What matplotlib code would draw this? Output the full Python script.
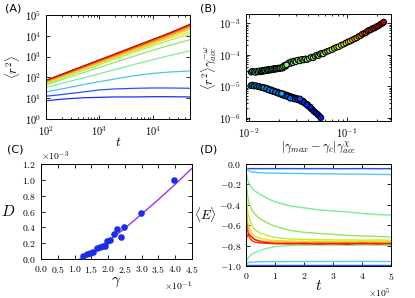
import numpy as np
import matplotlib
matplotlib.use("Agg")
import matplotlib.pyplot as plt

plt.rcParams['font.family'] = 'serif'
plt.rcParams['font.serif'] = ['cmr10']
plt.rcParams['mathtext.fontset'] = 'cm'
plt.rcParams['axes.formatter.use_mathtext'] = True
plt.rcParams['axes.linewidth'] = 0.7

# ---- panel A: <r^2> vs t ----
t_a = [1e2, 2e2, 5e2, 1e3, 2e3, 5e3, 1e4, 2e4, 5e4]
r2_lines = [
    [7.5, 9, 10.5, 11, 11.5, 11.5, 11.8, 11.8, 11.5],
    [12.5, 15, 20, 25, 28, 30, 31, 31, 30],
    [20, 28, 45, 62, 85, 125, 155, 180, 205],
    [33, 52, 95, 150, 240, 450, 700, 1100, 1900],
    [43, 80, 170, 300, 540, 1150, 2000, 3400, 6500],
    [50, 95, 220, 410, 780, 1800, 3300, 6000, 12000],
    [55, 105, 250, 480, 900, 2100, 4000, 7600, 15500],
    [58, 112, 265, 510, 980, 2350, 4500, 8700, 20500],
    [62, 120, 290, 560, 1090, 2650, 5100, 9900, 25000],
    [66, 128, 310, 610, 1200, 2900, 5700, 11200, 29000],
    [70, 137, 335, 660, 1300, 3200, 6300, 12400, 33000],
    [73, 144, 355, 700, 1380, 3400, 6700, 13300, 36000],
]
colors_a = ['#1a30ff', '#2a50ff', '#50c0f0', '#80eca0', '#90e860', '#b8ec40',
            '#d8e830', '#f0d020', '#f8a818', '#f87018', '#f03010', '#c01010']

# ---- panel B: scaled collapse ----
b_up_x = [0.0105, 0.0108, 0.0112, 0.0116, 0.012, 0.0124, 0.0128,
          0.0133, 0.0137, 0.0141, 0.0145, 0.015, 0.0155, 0.016, 0.0165, 0.017,
          0.0175, 0.018, 0.0186, 0.0192, 0.0198, 0.0205, 0.0212, 0.022,
          0.0228, 0.0236, 0.0245, 0.0255, 0.0262, 0.027, 0.028, 0.029, 0.030,
          0.0315, 0.033, 0.0345, 0.036, 0.0375, 0.039,
          0.041, 0.043, 0.045, 0.047, 0.049, 0.051, 0.053, 0.055, 0.057, 0.06,
          0.063, 0.066,
          0.07, 0.074, 0.078, 0.082, 0.087, 0.092, 0.097, 0.102, 0.107, 0.113,
          0.119,
          0.125, 0.131, 0.137, 0.143, 0.15, 0.156, 0.162, 0.168, 0.175, 0.182,
          0.19, 0.197, 0.205, 0.213, 0.222, 0.23, 0.236,
          # dense dark stretch
          0.0135, 0.0139, 0.0143, 0.0147, 0.0152, 0.0157, 0.0162, 0.0167,
          0.0172, 0.0178, 0.0183, 0.0189, 0.0195, 0.0201, 0.0208, 0.0216,
          0.0224, 0.0232, 0.0241]
b_up_y = [2.8e-5, 3.0e-5, 2.9e-5, 2.75e-5, 3.0e-5, 2.85e-5, 3.1e-5,
          2.9e-5, 3.2e-5, 3.0e-5, 3.3e-5, 3.1e-5, 3.4e-5, 3.2e-5, 3.5e-5, 3.3e-5,
          3.6e-5, 3.4e-5, 3.7e-5, 3.55e-5, 3.8e-5, 3.6e-5, 3.9e-5, 3.75e-5,
          4.6e-5, 4.3e-5, 5.0e-5, 5.6e-5, 5.2e-5, 6.0e-5, 5.6e-5, 6.4e-5, 6.0e-5,
          6.8e-5, 6.4e-5, 7.2e-5, 6.8e-5, 7.4e-5, 7.0e-5,
          7.6e-5, 8.4e-5, 8.0e-5, 9.0e-5, 9.8e-5, 9.4e-5, 1.05e-4, 1.12e-4,
          1.06e-4, 1.2e-4, 1.28e-4, 1.35e-4,
          1.45e-4, 1.6e-4, 1.72e-4, 1.8e-4, 2.0e-4, 2.15e-4, 2.35e-4, 2.55e-4,
          2.7e-4, 2.95e-4, 3.2e-4,
          3.4e-4, 3.8e-4, 4.0e-4, 4.5e-4, 4.8e-4, 5.0e-4, 5.6e-4, 6.0e-4,
          6.2e-4, 6.8e-4, 7.0e-4, 7.6e-4, 8.0e-4, 8.6e-4, 9.4e-4, 1.0e-3,
          1.08e-3,
          3.05e-5, 3.1e-5, 3.2e-5, 3.15e-5, 3.3e-5, 3.25e-5, 3.4e-5, 3.35e-5,
          3.5e-5, 3.45e-5, 3.6e-5, 3.55e-5, 3.7e-5, 3.7e-5, 3.8e-5, 3.95e-5,
          4.2e-5, 4.5e-5, 4.8e-5]
b_up_c = [0.45, 0.45, 0.45, 0.45, 0.46, 0.46, 0.46,
          0.46, 0.46, 0.47, 0.47, 0.47, 0.47, 0.47, 0.48, 0.48,
          0.48, 0.48, 0.48, 0.49, 0.49, 0.49, 0.49, 0.49,
          0.5, 0.5, 0.5, 0.5, 0.5, 0.5, 0.51, 0.51, 0.51,
          0.51, 0.51, 0.52, 0.52, 0.52, 0.52,
          0.52, 0.53, 0.53, 0.53, 0.54, 0.54, 0.54, 0.55, 0.55, 0.55,
          0.56, 0.56,
          0.57, 0.58, 0.59, 0.6, 0.61, 0.62, 0.64, 0.65, 0.66, 0.68, 0.7,
          0.72, 0.74, 0.76, 0.78, 0.8, 0.81, 0.82, 0.83, 0.84, 0.85,
          0.86, 0.87, 0.88, 0.89, 0.9, 0.92, 0.94,
          0.46, 0.46, 0.47, 0.47, 0.47, 0.47, 0.48, 0.48,
          0.48, 0.48, 0.48, 0.49, 0.49, 0.49, 0.49, 0.49,
          0.5, 0.5, 0.5]

b_lo_x = [0.0104, 0.0108, 0.0112, 0.0117, 0.0122, 0.0127, 0.0132,
          0.0138, 0.0143, 0.0148, 0.0153, 0.0158, 0.0164, 0.017, 0.0176,
          0.0182, 0.0189, 0.0196, 0.0203, 0.021, 0.0218, 0.0226, 0.0234,
          0.0243, 0.0252, 0.0262, 0.0272, 0.0283, 0.0294, 0.0305, 0.0317,
          0.033, 0.0343, 0.0357, 0.037, 0.0385, 0.04, 0.0415, 0.043, 0.0445,
          0.046, 0.048, 0.05, 0.052, 0.054,
          # dense dark stretch
          0.0141, 0.0151, 0.0161, 0.0173, 0.0185, 0.0199, 0.0213, 0.0229,
          0.0247, 0.0267, 0.0288, 0.0311, 0.0336, 0.0363, 0.0392, 0.0422,
          0.0215, 0.0262, 0.033, 0.0388]
b_lo_y = [1.05e-5, 1.1e-5, 1.02e-5, 1.06e-5, 9.8e-6, 1.0e-5, 9.2e-6,
          9.4e-6, 8.6e-6, 8.9e-6, 8.0e-6, 8.3e-6, 7.4e-6, 7.7e-6, 6.9e-6,
          7.1e-6, 6.4e-6, 6.6e-6, 5.9e-6, 6.1e-6, 5.5e-6, 5.7e-6, 5.1e-6,
          5.3e-6, 4.7e-6, 4.9e-6, 4.4e-6, 4.5e-6, 4.0e-6, 4.2e-6, 3.7e-6,
          3.8e-6, 3.3e-6, 3.4e-6, 2.9e-6, 2.7e-6, 2.4e-6, 2.2e-6, 1.95e-6,
          1.8e-6, 1.6e-6, 1.45e-6, 1.3e-6, 1.15e-6, 1.02e-6,
          9.0e-6, 8.4e-6, 7.6e-6, 7.1e-6, 6.6e-6, 6.0e-6, 5.5e-6, 5.0e-6,
          4.7e-6, 4.3e-6, 4.0e-6, 3.8e-6, 3.5e-6, 3.1e-6, 2.7e-6, 2.2e-6,
          5.9e-6, 4.2e-6, 4.0e-6, 2.6e-6]
b_lo_c = [0.31, 0.31, 0.3, 0.3, 0.3, 0.29, 0.29,
          0.28, 0.28, 0.27, 0.27, 0.26, 0.26, 0.25, 0.25,
          0.24, 0.24, 0.23, 0.23, 0.22, 0.22, 0.21, 0.21,
          0.2, 0.2, 0.2, 0.19, 0.19, 0.19, 0.18, 0.18,
          0.18, 0.17, 0.17, 0.17, 0.16, 0.16, 0.16, 0.15, 0.15,
          0.15, 0.15, 0.14, 0.14, 0.14,
          0.28, 0.27, 0.26, 0.25, 0.24, 0.23, 0.22, 0.21,
          0.2, 0.2, 0.19, 0.18, 0.18, 0.17, 0.16, 0.16,
          0.3, 0.22, 0.2, 0.16]

# ---- panel C: D vs gamma ----
gam_pts = [0.126, 0.136, 0.146, 0.156, 0.168, 0.176, 0.184, 0.190, 0.197,
           0.205, 0.218, 0.227, 0.237, 0.247, 0.297, 0.396]
D_pts = [0.038e-3, 0.059e-3, 0.072e-3, 0.085e-3, 0.135e-3, 0.148e-3,
         0.160e-3, 0.165e-3, 0.231e-3, 0.240e-3, 0.316e-3, 0.375e-3,
         0.274e-3, 0.400e-3, 0.577e-3, 1.0e-3]
gam_fit = [0.115, 0.12, 0.13, 0.15, 0.175, 0.2, 0.25, 0.3, 0.35, 0.4, 0.45]
D_fit = [0.0, 0.003e-3, 0.02e-3, 0.071e-3, 0.14e-3, 0.22e-3, 0.388e-3,
         0.567e-3, 0.752e-3, 0.944e-3, 1.145e-3]

# ---- panel D: <E> vs t ----
t_e = [0, 2e3, 5e3, 1e4, 2e4, 3e4, 5e4, 7.5e4, 1e5, 1.5e5, 2e5, 2.5e5,
       3e5, 3.5e5, 4e5, 4.5e5, 5e5]
E_lines = [
    [-0.04, -0.045, -0.045, -0.045, -0.046, -0.045, -0.046, -0.045, -0.046,
     -0.045, -0.046, -0.045, -0.046, -0.046, -0.045, -0.046, -0.046],
    [-0.02, -0.04, -0.055, -0.068, -0.078, -0.082, -0.086, -0.089, -0.09,
     -0.092, -0.094, -0.096, -0.097, -0.099, -0.1, -0.102, -0.104],
    [-0.03, -0.1, -0.15, -0.19, -0.235, -0.265, -0.3, -0.34, -0.37, -0.41,
     -0.43, -0.45, -0.46, -0.47, -0.485, -0.495, -0.5],
    [-0.1, -0.22, -0.3, -0.38, -0.45, -0.49, -0.54, -0.58, -0.61, -0.65,
     -0.67, -0.68, -0.69, -0.7, -0.705, -0.71, -0.715],
    [-0.15, -0.35, -0.45, -0.52, -0.6, -0.64, -0.68, -0.7, -0.72, -0.735,
     -0.74, -0.742, -0.744, -0.745, -0.746, -0.745, -0.747],
    [-0.2, -0.45, -0.55, -0.62, -0.68, -0.71, -0.73, -0.745, -0.75, -0.755,
     -0.757, -0.758, -0.76, -0.758, -0.76, -0.76, -0.762],
    [-0.97, -0.945, -0.93, -0.91, -0.885, -0.87, -0.845, -0.825, -0.81,
     -0.8, -0.797, -0.796, -0.795, -0.797, -0.795, -0.796, -0.795],
    [-1.0, -0.98, -0.972, -0.965, -0.962, -0.96, -0.958, -0.957, -0.957,
     -0.956, -0.956, -0.955, -0.956, -0.955, -0.955, -0.955, -0.956],
    [-0.995, -0.995, -0.995, -0.995, -0.995, -0.995, -0.995, -0.995, -0.995,
     -0.995, -0.995, -0.995, -0.995, -0.995, -0.995, -0.995, -0.995],
    [-0.25, -0.52, -0.6, -0.67, -0.72, -0.74, -0.755, -0.762, -0.765,
     -0.768, -0.77, -0.768, -0.77, -0.772, -0.77, -0.771, -0.772],
    [-0.3, -0.58, -0.65, -0.71, -0.75, -0.765, -0.775, -0.778, -0.782,
     -0.778, -0.785, -0.779, -0.783, -0.777, -0.784, -0.779, -0.782],
    [-0.82, -0.72, -0.7, -0.69, -0.715, -0.74, -0.762, -0.772, -0.778,
     -0.784, -0.776, -0.786, -0.78, -0.788, -0.776, -0.785, -0.78],
]
colors_e = ['#2050ff', '#50c8f0', '#78eb9a', '#8ee860', '#c0ec30', '#e8e020',
            '#80eea0', '#60c8f0', '#2050ff', '#ffa020', '#ff3010', '#ff1800']

fig = plt.figure(figsize=(4.15, 2.98), dpi=100)
W, H = 415.0, 298.0


def rect(l, r, t, b):
    return [l / W, 1 - b / H, (r - l) / W, (b - t) / H]


def style(ax, size=7):
    ax.tick_params(which='both', direction='in', top=True, right=True,
                   labelsize=size, width=0.6)
    ax.tick_params(which='major', length=3)
    ax.tick_params(which='minor', length=1.5)


axA = fig.add_axes(rect(46, 190, 15, 119))
for vals, col in zip(r2_lines, colors_a):
    axA.plot(t_a, vals, color=col, lw=0.9)
axA.set_xscale('log')
axA.set_yscale('log')
axA.set_xlim(100, 5e4)
axA.set_ylim(1, 1e5)
axA.set_yticks([1, 10, 100, 1e3, 1e4, 1e5])
axA.set_xlabel(r'$t$', fontsize=10, labelpad=-1)
axA.set_ylabel(r'$\langle r^2\rangle$', fontsize=9, labelpad=2)
style(axA, 7.5)

axB = fig.add_axes(rect(246, 391, 14, 121))
jet = plt.cm.jet
axB.scatter(b_up_x, b_up_y, c=[jet(v) for v in b_up_c], s=16,
            edgecolors='k', linewidths=0.8, zorder=3)
axB.scatter(b_lo_x, b_lo_y, c=[jet(v) for v in b_lo_c], s=16,
            edgecolors='k', linewidths=0.8, zorder=3)
axB.set_xscale('log')
axB.set_yscale('log')
axB.set_xlim(0.0093, 0.28)
axB.set_ylim(8e-7, 1.95e-3)
axB.set_yticks([1e-6, 1e-5, 1e-4, 1e-3])
axB.set_xlabel(r'$|\gamma_{max}-\gamma_c|\gamma_{acc}^{\chi}$', fontsize=8.8,
               labelpad=0)
axB.set_ylabel(r'$\langle r^2\rangle\gamma_{acc}^{-\omega}$', fontsize=8.8,
               labelpad=1)
style(axB, 7.5)

axC = fig.add_axes(rect(41, 192, 164, 259))
axC.plot(gam_fit, D_fit, color='#9933ee', lw=1.0)
axC.scatter(gam_pts, D_pts, color='#1a2ee8', s=14, zorder=3)
axC.set_xlim(0, 0.45)
axC.set_ylim(0, 1.2e-3)
axC.set_xticks(np.arange(0, 0.46, 0.05))
axC.set_yticks(np.arange(0, 1.21e-3, 0.2e-3))
axC.ticklabel_format(style='sci', axis='both', scilimits=(0, 0))
axC.xaxis.get_offset_text().set_fontsize(7)
axC.yaxis.get_offset_text().set_fontsize(7)
axC.set_xlabel(r'$\gamma$', fontsize=11, labelpad=0)
axC.set_ylabel(r'$D$', fontsize=11, rotation=0, labelpad=10, va='center')
style(axC)

axD = fig.add_axes(rect(246, 391, 164, 266))
for vals, col in zip(E_lines, colors_e):
    axD.plot(t_e, vals, color=col, lw=1.0)
axD.set_xlim(0, 5e5)
axD.set_ylim(-1.0, 0.0)
axD.set_xticks(np.arange(0, 5.01e5, 1e5))
axD.set_yticks(np.arange(-1.0, 0.01, 0.2))
axD.ticklabel_format(style='sci', axis='x', scilimits=(0, 0))
axD.xaxis.get_offset_text().set_fontsize(7)
axD.set_xlabel(r'$t$', fontsize=11, labelpad=-2)
axD.set_ylabel(r'$\langle E\rangle$', fontsize=9.5, rotation=0, labelpad=10,
               va='center')
style(axD)

for txt, x, y in [('(A)', 0.012, 0.97), ('(B)', 0.482, 0.97),
                  ('(C)', 0.017, 0.497), ('(D)', 0.482, 0.497)]:
    fig.text(x, y, txt, fontsize=8, family='DejaVu Sans', va='center')

fig.savefig('out.png', dpi=100)
